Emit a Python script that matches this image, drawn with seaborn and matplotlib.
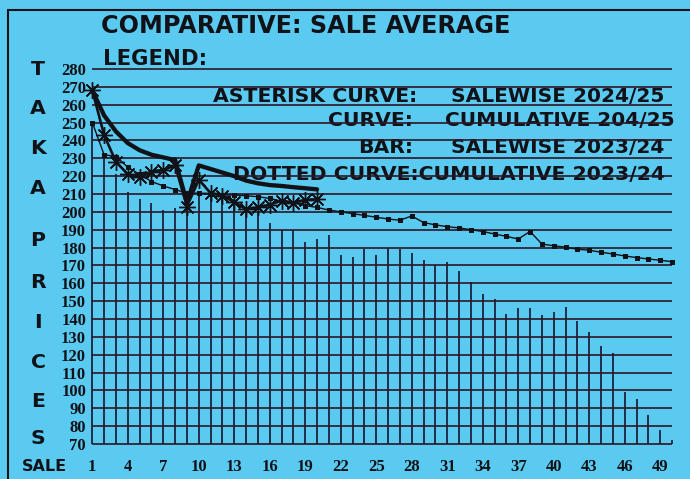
import matplotlib
matplotlib.use("Agg")
import matplotlib.pyplot as plt
from matplotlib.lines import Line2D
import seaborn as sns
import pandas as pd
import numpy as np

# ---------------- data ----------------
sales_2023 = list(range(1, 51))
bar_salewise_2023 = [250, 232, 221, 211, 207, 205, 201, 202, 203, 210,
                     210, 209, 207, 200, 200, 194, 190, 190, 183, 185,
                     187, 176, 175, 179, 176, 180, 179, 177, 173, 170,
                     172, 167, 161, 154, 151, 143, 146, 146, 142, 144,
                     147, 139, 133, 125, 121, 99, 95, 86, 78, 72]
dotted_cum_2023 = [250, 232, 231, 225, 221, 217, 214.5, 212.5, 210.5, 210.5,
                   210, 209.5, 209.5, 209, 208.5, 207.5, 206, 205, 203.5, 202.5,
                   201, 200, 199, 198, 197, 196, 195.3, 197.7, 194, 192.7,
                   191.7, 191, 190, 189, 187.6, 186.3, 184.8, 189, 182, 181,
                   180.2, 179.1, 178.5, 177.4, 176.4, 175.3, 174.4, 173.6, 172.9, 172.1]
sales_2024 = list(range(1, 21))
asterisk_sale_2024 = [268, 243, 228, 221, 219.5, 222.5, 223.5, 226, 203, 218,
                      210.5, 209, 205.5, 201.5, 202.5, 204, 206.3, 205, 206.7, 207]
curve_cum_2024 = [268, 254, 245, 238.5, 234.5, 232, 230.5, 229, 205, 226,
                  224, 222, 220, 217.5, 216, 215, 214.5, 213.8, 213.2, 212.6]
y_ticks = list(range(70, 290, 10))
x_ticks = list(range(1, 51, 3))
title = "COMPARATIVE: SALE AVERAGE"
legend_rows = [("ASTERISK CURVE:", "SALEWISE 2024/25"),
               ("CURVE:", "CUMULATIVE 204/25"),
               ("BAR:", "SALEWISE 2023/24")]
legend_last = "DOTTED CURVE:CUMULATIVE 2023/24"
ylabel_letters = ["T", "A", "K", "A", "P", "R", "I", "C", "E", "S"]

# ---------------- style ----------------
BG = "#5bcaf0"
INK = "#111118"
GRID = "#2e1726"
BAR = "#1a1a33"
sns.set_style("white")
plt.rcParams["font.family"] = ["DejaVu Sans"]

W, H = 690, 479
fig = plt.figure(figsize=(W / 100, H / 100), dpi=100, facecolor=BG)
ax = fig.add_axes([92.3 / W, 35 / H, (672 - 92.3) / W, 375 / H])
ax.set_facecolor(BG)
ax.set_xlim(1, 50)
ax.set_ylim(70, 280)
for s in ax.spines.values():
    s.set_visible(False)

def fx(px):
    return px / W

def fy(py):
    return 1 - py / H

# bars (thin vertical lines)
ax.vlines(sales_2023, 70, bar_salewise_2023, colors=BAR, linewidth=1.25,
          zorder=2, clip_on=False)
# horizontal grid
ax.hlines(y_ticks, 1, 50, colors=GRID, linewidth=1.2, zorder=2, clip_on=False)

df23 = pd.DataFrame({"sale": sales_2023, "cum": dotted_cum_2023})
df24 = pd.DataFrame({"sale": sales_2024, "sw": asterisk_sale_2024, "cum": curve_cum_2024})

sns.lineplot(data=df23, x="sale", y="cum", ax=ax, color=INK, linewidth=1.0,
             marker="s", markersize=3.6, markeredgewidth=0, zorder=4, clip_on=False)
sns.lineplot(data=df24, x="sale", y="cum", ax=ax, color=INK, linewidth=3.1,
             zorder=5, clip_on=False)
sns.lineplot(data=df24, x="sale", y="sw", ax=ax, color=INK, linewidth=1.9,
             marker=(8, 2, 0), markersize=12, markeredgewidth=1.0,
             markeredgecolor=INK, zorder=6, clip_on=False)

ax.set_xlabel("")
ax.set_ylabel("")
ax.set_xticks(x_ticks)
ax.set_yticks(y_ticks)
ax.tick_params(axis="both", length=0)
ax.tick_params(axis="y", pad=4.5)
ax.tick_params(axis="x", pad=10.5)
for lab in ax.get_xticklabels() + ax.get_yticklabels():
    lab.set_fontfamily("Liberation Serif")
    lab.set_fontweight("bold")
    lab.set_fontsize(12)
    lab.set_color(INK)

# texts (in axes so that grid lines lie over them)
def txt(x, y, s, size, ha="left"):
    ax.text(fx(x), fy(y), s, transform=fig.transFigure, fontsize=size,
            fontweight="bold", color=INK, ha=ha, va="baseline", zorder=1,
            family="DejaVu Sans")

txt(101, 32.8, title, 17.2)
txt(103, 65, "LEGEND:", 15.3)
row_base = [102.4, 125.7, 153.1]
label_right = [417, 413, 413]
value_left = [451, 445, 451]
for (lab, val), yb, xr, xl in zip(legend_rows, row_base, label_right, value_left):
    txt(xr, yb, lab, 14.7, ha="right")
    txt(xl, yb, val, 14.5, ha="left")
txt(665, 179.7, legend_last, 14.7, ha="right")

letter_y = [68, 107, 147, 187, 239, 281, 321, 361, 400, 437]
for ch, yc in zip(ylabel_letters, letter_y):
    ax.text(fx(38), fy(yc + 7.4), ch, transform=fig.transFigure, fontsize=14.7,
            fontweight="bold", color=INK, ha="center", va="baseline", zorder=1)
ax.text(fx(44.5), fy(471), "SALE", transform=fig.transFigure, fontsize=11.5,
        fontweight="bold", color=INK, ha="center", va="baseline", zorder=1)

# border lines
fig.add_artist(Line2D([fx(8), fx(8)], [0, fy(10)], transform=fig.transFigure,
                      color=INK, linewidth=1.5))
fig.add_artist(Line2D([fx(8), 1], [fy(10), fy(10)], transform=fig.transFigure,
                      color=INK, linewidth=1.5))

fig.savefig("out.png", dpi=100, facecolor=BG)
